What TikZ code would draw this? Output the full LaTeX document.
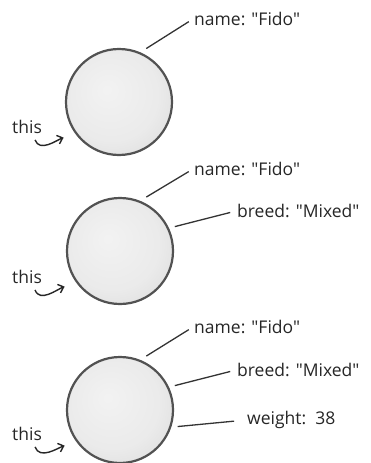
\documentclass[tikz,border=0pt]{standalone}
\usepackage{fontspec}
\setmainfont{Open Sans}[Ligatures=TeXOff]
\usetikzlibrary{arrows.meta}

% soft grey ball, lit from the upper left
\pgfdeclareradialshading{ballshade}{\pgfpoint{-6bp}{6bp}}{%
  color(0bp)=(gray!10); color(22bp)=(gray!16); color(35bp)=(gray!27);
  color(42bp)=(gray!42); color(46bp)=(gray!60); color(50bp)=(gray!80)}

\begin{document}
\begin{tikzpicture}[x=1pt,y=-1pt,
    ball/.style={circle,minimum size=106pt,inner sep=0pt,outer sep=7pt,
      shading=ballshade,draw=black!68,line width=2.2pt},
    prop/.style={font=\fontsize{17.5}{20}\selectfont,text=black!85,inner sep=1pt,anchor=west},
    leader/.style={draw=black!80,line width=1.3pt},
    pointer/.style={-{Straight Barb[length=5pt,width=9pt]},line width=1.4pt,black!85}]
  \useasboundingbox (0,0) rectangle (370,463);

  % first object: one property
  \node[ball] (dog1) at (119,102) {};
  \node[prop] (name1) at (193,19) {name: "Fido"};
  \node[prop,anchor=center] (this1) at (27,127) {this};
  \draw[leader,shorten >=5pt] (dog1.63) -- (name1.west);
  \draw[pointer,shorten >=6pt] ([xshift=-8pt,yshift=-5pt]this1.south east) to[out=-70,in=200] (dog1.214);

  % second object: two properties
  \node[ball] (dog2) at (120,251) {};
  \node[prop] (name2) at (193,169) {name: "Fido"};
  \node[prop] (breed2) at (236,211) {breed: "Mixed"};
  \node[prop,anchor=center] (this2) at (27,277) {this};
  \draw[leader,shorten >=5pt] (dog2.64) -- (name2.west);
  \draw[leader,shorten >=6pt] (dog2.24) -- (breed2.west);
  \draw[pointer,shorten >=6pt] ([xshift=-8pt,yshift=-5pt]this2.south east) to[out=-70,in=200] (dog2.214);

  % third object: three properties
  \node[ball] (dog3) at (120,410) {};
  \node[prop] (name3) at (193,327) {name: "Fido"};
  \node[prop] (breed3) at (236,370) {breed: "Mixed"};
  \node[prop] (weight3) at (246,420) {weight:~~38};
  \node[prop,anchor=center] (this3) at (27,434) {this};
  \draw[leader,shorten >=5pt] (dog3.64) -- (name3.west);
  \draw[leader,shorten >=6pt] (dog3.24) -- (breed3.west);
  \draw[leader,shorten >=12pt] (dog3.-16) -- (weight3.west);
  \draw[pointer,shorten >=6pt] ([xshift=-8pt,yshift=-5pt]this3.south east) to[out=-70,in=200] (dog3.214);
\end{tikzpicture}
\end{document}
